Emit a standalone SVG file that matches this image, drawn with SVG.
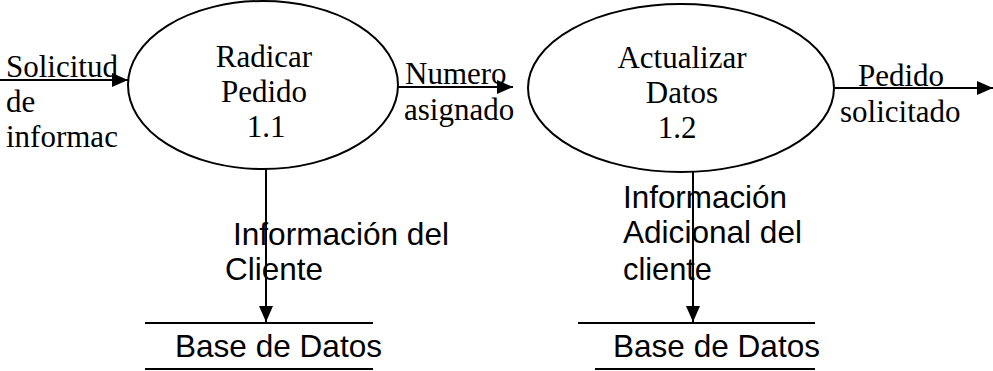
<svg xmlns="http://www.w3.org/2000/svg" width="993" height="371" viewBox="0 0 993 371">
<style>
.shape{fill:none;stroke:#000;stroke-width:2}
.ln{stroke:#000;stroke-width:2;fill:none}
.tr{font-family:"Liberation Serif","Times New Roman",serif;font-size:31px;fill:#000}
.c{text-anchor:middle}
.ar{font-family:"Liberation Sans",Arial,sans-serif;font-size:30.5px;fill:#000}
</style>
<defs>
<marker id="ah" markerUnits="userSpaceOnUse" markerWidth="16" markerHeight="16" viewBox="0 0 16 16" refX="16" refY="8" orient="auto">
<path d="M0,1 L16,8 L0,15 Z" fill="#000"/>
</marker>
</defs>
<rect width="993" height="371" fill="#fff"/>
<g id="p11">
<ellipse class="shape" cx="263" cy="85" rx="135" ry="84"/>
<text class="tr c" x="264" y="67">Radicar</text>
<text class="tr c" x="264" y="102">Pedido</text>
<text class="tr c" x="266" y="137">1.1</text>
</g>
<g id="p12">
<ellipse class="shape" cx="681" cy="88" rx="153" ry="84"/>
<text class="tr c" x="682" y="68">Actualizar</text>
<text class="tr c" x="682" y="103">Datos</text>
<text class="tr c" x="677" y="138">1.2</text>
</g>
<g id="store1">
<line class="ln" x1="145" y1="323" x2="373" y2="323"/>
<line class="ln" x1="145" y1="369" x2="373" y2="369"/>
<text class="ar" x="175" y="357" textLength="207" lengthAdjust="spacingAndGlyphs">Base de Datos</text>
</g>
<g id="store2">
<line class="ln" x1="578" y1="323" x2="815" y2="323"/>
<line class="ln" x1="595" y1="369" x2="815" y2="369"/>
<text class="ar" x="613" y="357" textLength="207" lengthAdjust="spacingAndGlyphs">Base de Datos</text>
</g>
<g id="connectors">
<line class="ln" x1="0" y1="80" x2="128" y2="80" marker-end="url(#ah)"/>
<line class="ln" x1="398" y1="87" x2="513" y2="87" marker-end="url(#ah)"/>
<line class="ln" x1="835" y1="88" x2="993" y2="88" marker-end="url(#ah)"/>
<line class="ln" x1="266" y1="169" x2="266" y2="322" marker-end="url(#ah)"/>
<line class="ln" x1="693" y1="172" x2="693" y2="322" marker-end="url(#ah)"/>
</g>
<g id="labels">
<text class="tr" x="6" y="77">Solicitud</text>
<text class="tr" x="6" y="112">de</text>
<text class="tr" x="6" y="147">informac</text>
<text class="tr" x="405" y="84">Numero</text>
<text class="tr" x="404" y="120">asignado</text>
<text class="tr" x="858" y="86">Pedido</text>
<text class="tr" x="840" y="122">solicitado</text>
<text class="ar" x="233" y="245" textLength="216" lengthAdjust="spacingAndGlyphs">Información del</text>
<text class="ar" x="225" y="280" textLength="98" lengthAdjust="spacingAndGlyphs">Cliente</text>
<text class="ar" x="623" y="208" textLength="164" lengthAdjust="spacingAndGlyphs">Información</text>
<text class="ar" x="623" y="243" textLength="179" lengthAdjust="spacingAndGlyphs">Adicional del</text>
<text class="ar" x="623" y="280" textLength="89" lengthAdjust="spacingAndGlyphs">cliente</text>
</g>
</svg>
